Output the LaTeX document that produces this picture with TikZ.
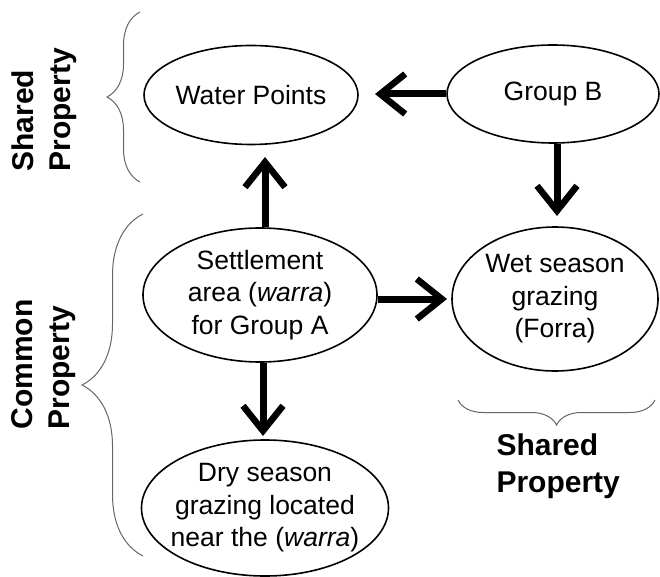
\documentclass[tikz,border=0pt]{standalone}
\usepackage{fontspec}
\setmainfont{Liberation Sans}
\usetikzlibrary{arrows.meta,decorations.pathreplacing,shapes.geometric}
\begin{document}
\begin{tikzpicture}[x=1pt,y=-1pt,
  oval/.style={draw,line width=1.6pt,ellipse,inner sep=-16pt,align=center,font=\fontsize{26.5}{32.5}\selectfont},
  bigarrow/.style={line width=7pt,-{Straight Barb[length=25pt,width=40pt,line width=6.5pt]}},
  bracecurve/.style={draw=black!60,line width=1pt,decorate},
  lab/.style={font=\bfseries\fontsize{30}{37}\selectfont,align=left}]
\useasboundingbox (0,0) rectangle (660,577);
\node[oval,minimum width=214pt,minimum height=99pt] (wp) at (251,95) {Water Points};
\node[oval,minimum width=212pt,minimum height=98pt] (gb) at (553,94) {Group B};
\node[oval,minimum width=234pt,minimum height=134pt] (sa) at (260,295) {Settlement\\area (\textit{warra})\\for Group A};
\node[oval,minimum width=206pt,minimum height=144pt] (ws) at (555,299) {Wet season\\grazing\\(Forra)};
\node[oval,minimum width=247pt,minimum height=136pt] (ds) at (265,508) {Dry season\\grazing located\\near the (\textit{warra})};
\coordinate (t1) at (375,94);
\coordinate (t2) at (557,216);
\coordinate (t3) at (265,157);
\coordinate (t4) at (447,299);
\coordinate (t5) at (263,436);
\draw[bigarrow] (gb.west) -- (t1);
\draw[bigarrow] (gb.south -| t2) -- (t2);
\draw[bigarrow] (sa.north -| t3) -- (t3);
\draw[bigarrow] (sa.east |- t4) -- (t4);
\draw[bigarrow] (sa.south -| t5) -- (t5);
\coordinate (b1a) at (140,182); \coordinate (b1b) at (140,12);
\draw[bracecurve,decoration={brace,amplitude=33pt}] (b1a) -- (b1b);
\coordinate (b2a) at (143,556); \coordinate (b2b) at (143,214);
\draw[bracecurve,decoration={brace,amplitude=61pt}] (b2a) -- (b2b);
\coordinate (b3a) at (655,400); \coordinate (b3b) at (458,400);
\draw[bracecurve,decoration={brace,amplitude=25pt}] (b3a) -- (b3b);
\node[lab,rotate=90,anchor=west] (l1) at (44,175) {Shared\\Property};
\node[lab,rotate=90,anchor=west] (l2) at (44,433) {Common\\Property};
\node[lab,anchor=west] (l3) at (493,466) {Shared\\Property};
\end{tikzpicture}
\end{document}
